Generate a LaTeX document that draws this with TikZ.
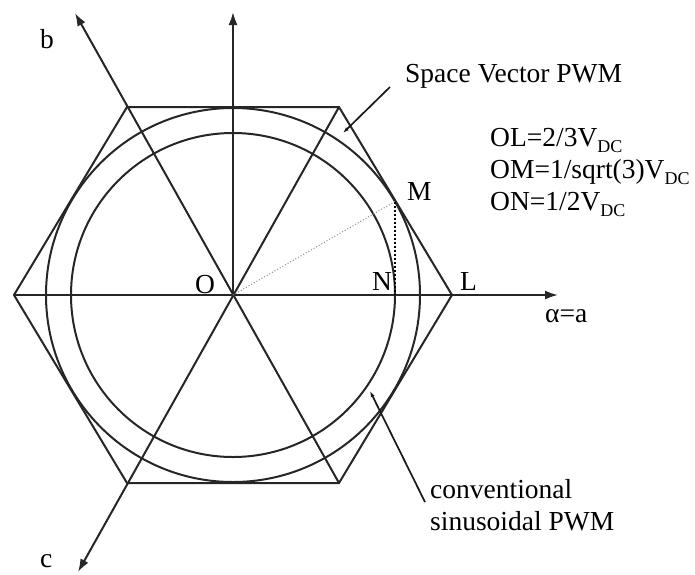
\documentclass[tikz,border=0pt]{standalone}
\usepackage{fontspec}
\setmainfont{Liberation Serif}
\usetikzlibrary{arrows.meta}
\newcommand{\sub}[1]{\raisebox{-0.5ex}{\fontsize{18}{18}\selectfont #1}}
\begin{document}
\begin{tikzpicture}[x=1pt,y=-1pt,
  ln/.style={line width=2pt,draw=black!85},
  axarrow/.style={ln,-{Latex[length=13pt,width=9pt]}},
  ptr/.style={line width=1.7pt,draw=black!90,-{Latex[length=6pt,width=4pt]}},
  lbl/.style={anchor=base west,inner sep=0pt,font=\fontsize{27.5}{32}\selectfont}]
\useasboundingbox (0,0) rectangle (695,574);
% key points
\coordinate (O) at (233,295);
\coordinate (L) at (452,295);
\coordinate (TR) at (339,107);
\coordinate (TL) at (127,107);
\coordinate (W) at (14,295);
\coordinate (BL) at (127,483);
\coordinate (BR) at (339,483);
\coordinate (M) at (395,201.5);
\coordinate (N) at (395,295);
\coordinate (btip) at (75,13);
\coordinate (ctip) at (78,572);
\coordinate (ytip) at (233,12);
\coordinate (xtip) at (558,295);
% hexagon
\draw[ln,line join=miter] (W) -- (TL) -- (TR) -- (L) -- (BR) -- (BL) -- cycle;
% circles
\draw[ln] (O) circle[radius=187];
\draw[ln] (O) circle[radius=162];
% axes
\draw[axarrow] (W) -- (xtip);
\draw[axarrow] (O) -- (ytip);
\draw[axarrow] (BR) -- (btip);
\draw[axarrow] (TR) -- (ctip);
% OM and MN
\draw[black!45,line width=1pt,dotted] (O) -- (M);
\draw[black,line width=2pt,dotted] (M) -- (N);
% pointers
\coordinate (svs) at (390,87);
\coordinate (sve) at (343,133);
\coordinate (cvs) at (425,502);
\coordinate (cve) at (370,391);
\draw[ptr] (svs) -- (sve);
\draw[ptr] (cvs) -- (cve);
% labels
\node[lbl] (tb) at (40,48) {b};
\node[lbl] (tc) at (40,567) {c};
\node[lbl] (tO) at (195,293) {O};
\node[lbl] (tM) at (407,200) {M};
\node[lbl] (tN) at (372,290) {N};
\node[lbl] (tL) at (460,290) {L};
\node[lbl] (ta) at (545,322) {α=a};
\node[lbl] (tsv) at (405,82) {Space Vector PWM};
\node[lbl] (t1) at (490,146) {OL=2/3V\sub{DC}};
\node[lbl] (t2) at (490,178) {OM=1/sqrt(3)V\sub{DC}};
\node[lbl] (t3) at (490,210) {ON=1/2V\sub{DC}};
\node[lbl] (tcv1) at (430,498) {conventional};
\node[lbl] (tcv2) at (430,530) {sinusoidal PWM};
\end{tikzpicture}
\end{document}
